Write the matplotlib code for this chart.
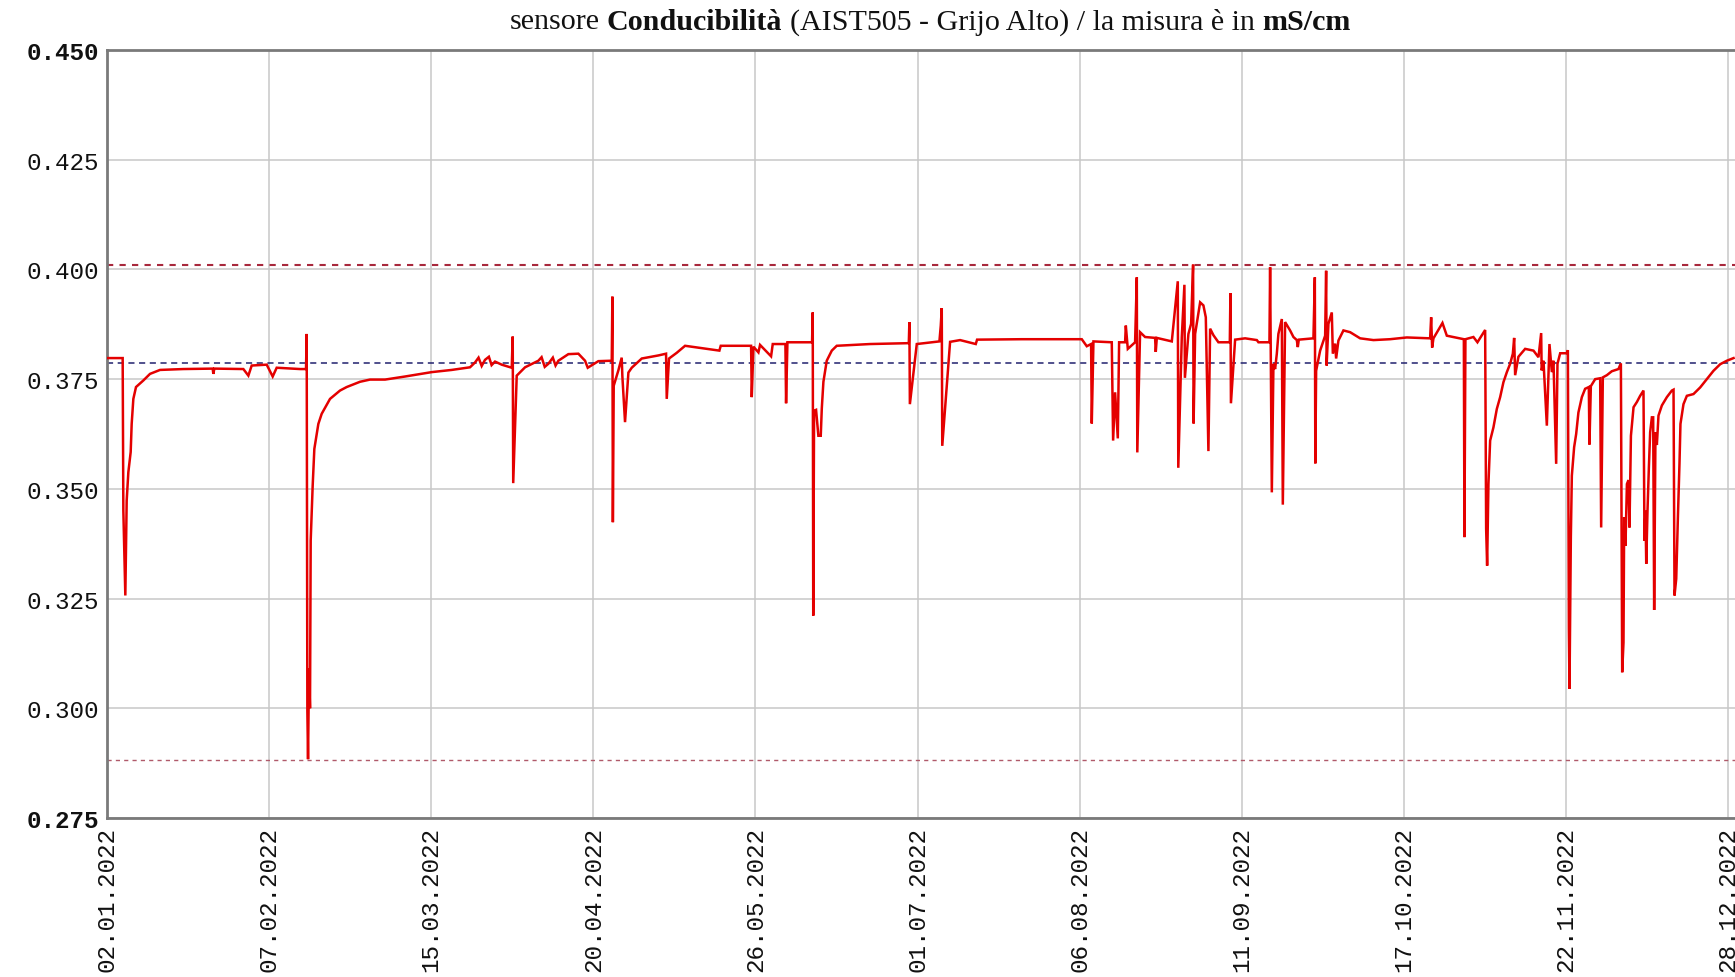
import numpy as np
import pandas as pd
import matplotlib
matplotlib.use("Agg")
import matplotlib.pyplot as plt
import matplotlib.dates as mdates

# conductivity readings, AIST505 Grijo Alto, 2022
# day offsets are counted from 02.01.2022 00:00
start_date = np.datetime64("2022-01-02T00:00")

# Jan - Feb
days_a = [0.0, 3.48, 3.63, 4.07, 4.37, 4.74, 5.26, 5.48, 5.85, 6.44,
          8.07, 9.55, 11.77, 16.95, 23.47, 23.61, 23.84, 30.28, 31.39, 32.13,
          35.46, 36.79, 37.68, 42.86, 44.19, 44.34, 44.49, 44.64, 44.86, 45.08,
          45.23, 45.67, 46.04, 46.93, 47.67, 49.52, 51.74, 53.22, 56.18, 58.40]
vals_a = [0.3798, 0.3798, 0.3450, 0.3257, 0.3473, 0.3538, 0.3584, 0.3648, 0.3705, 0.3732,
          0.3747, 0.3762, 0.3771, 0.3773, 0.3774, 0.3762, 0.3774, 0.3773, 0.3758, 0.3781,
          0.3783, 0.3756, 0.3776, 0.3773, 0.3773, 0.3853, 0.2994, 0.2884, 0.3090, 0.3000,
          0.3382, 0.3507, 0.3591, 0.3648, 0.3671, 0.3705, 0.3724, 0.3732, 0.3744, 0.3749]

# Mar - May
days_b = [61.74, 66.18, 72.10, 76.55, 80.61, 81.72, 82.50, 83.20, 83.94, 84.80,
          85.40, 86.16, 87.65, 89.87, 90.09, 90.20, 90.98, 92.83, 95.79, 96.50,
          97.20, 98.01, 99.00, 99.60, 100.23, 102.45, 104.67, 106.15, 106.75, 109.11,
          112.08, 112.22, 112.33, 112.52, 113.55, 114.29, 114.44, 115.03, 115.78, 116.52,
          118.74, 122.43, 124.14, 124.29, 124.80, 126.51, 128.36]
vals_b = [0.3749, 0.3756, 0.3766, 0.3771, 0.3777, 0.3788, 0.3799, 0.3780, 0.3794, 0.3801,
          0.3782, 0.3790, 0.3783, 0.3776, 0.3847, 0.3513, 0.3758, 0.3777, 0.3792, 0.3800,
          0.3778, 0.3785, 0.3799, 0.3781, 0.3792, 0.3807, 0.3808, 0.3792, 0.3776, 0.3791,
          0.3792, 0.3938, 0.3424, 0.3735, 0.3770, 0.3799, 0.3756, 0.3652, 0.3765, 0.3776,
          0.3797, 0.3804, 0.3808, 0.3705, 0.3797, 0.3810, 0.3826]

# May - Jul
days_c = [135.98, 136.28, 143.02, 143.17, 143.54, 144.65, 145.01, 147.46, 147.83, 150.64,
          150.79, 151.09, 156.56, 156.71, 156.82, 157.01, 157.45, 157.96, 158.49, 158.72,
          159.08, 159.82, 160.94, 162.04, 169.44, 178.04, 178.17, 178.28, 179.81, 184.84,
          185.14, 185.36, 185.47, 187.21, 189.43]
vals_c = [0.3815, 0.3826, 0.3826, 0.3709, 0.3824, 0.3811, 0.3828, 0.3802, 0.3830, 0.3830,
          0.3695, 0.3834, 0.3834, 0.3902, 0.3211, 0.3678, 0.3680, 0.3621, 0.3621, 0.3683,
          0.3744, 0.3792, 0.3815, 0.3826, 0.3830, 0.3832, 0.3880, 0.3693, 0.3830, 0.3836,
          0.3872, 0.3912, 0.3598, 0.3835, 0.3839]

# Jul - Sep
days_d = [192.91, 193.20, 203.13, 216.45, 217.56, 218.52, 218.67, 219.04, 223.11, 223.41,
          223.85, 224.45, 224.74, 226.07, 226.23, 226.67, 228.29, 228.67, 228.78, 229.40,
          230.51, 232.73, 232.88, 233.11, 236.44, 237.77, 237.88, 238.66, 239.24, 239.35,
          240.13, 240.73, 241.17, 241.28, 241.62, 242.73, 243.46, 243.99, 244.57, 244.95,
          245.69, 246.79, 249.32, 249.46, 249.57, 250.50, 252.72]
vals_d = [0.3830, 0.3840, 0.3841, 0.3841, 0.3825, 0.3830, 0.3649, 0.3836, 0.3834, 0.3610,
          0.3720, 0.3615, 0.3834, 0.3834, 0.3872, 0.3819, 0.3834, 0.3982, 0.3583, 0.3857,
          0.3846, 0.3844, 0.3812, 0.3844, 0.3836, 0.3973, 0.3548, 0.3846, 0.3965, 0.3753,
          0.3853, 0.3876, 0.4011, 0.3649, 0.3853, 0.3925, 0.3918, 0.3891, 0.3586, 0.3865,
          0.3850, 0.3834, 0.3834, 0.3946, 0.3695, 0.3840, 0.3843]

# Sep - Nov
days_e = [255.32, 255.68, 258.12, 258.27, 258.65, 259.01, 259.38, 259.76, 260.11, 260.87,
          261.09, 261.60, 262.71, 263.45, 264.20, 264.42, 264.64, 267.89, 268.20, 268.31,
          268.49, 269.38, 270.49, 270.71, 270.82, 271.22, 271.97, 272.20, 272.71, 272.93,
          273.44, 274.55, 276.04, 278.26, 281.22, 284.92, 288.63, 293.80, 294.03, 294.25,
          294.54, 296.54, 297.51, 301.29, 301.42, 301.64, 303.42, 304.31, 306.02, 306.24,
          306.46, 306.75, 307.13, 307.86, 308.61, 309.35, 310.08, 310.84, 311.57, 312.17,
          312.46, 312.68, 313.41, 314.90]
vals_e = [0.3839, 0.3834, 0.3834, 0.4005, 0.3492, 0.3785, 0.3773, 0.3808, 0.3853, 0.3887,
          0.3464, 0.3880, 0.3861, 0.3846, 0.3839, 0.3823, 0.3840, 0.3843, 0.3982, 0.3558,
          0.3769, 0.3815, 0.3849, 0.3997, 0.3781, 0.3876, 0.3902, 0.3808, 0.3831, 0.3797,
          0.3838, 0.3861, 0.3857, 0.3843, 0.3839, 0.3841, 0.3845, 0.3843, 0.3891, 0.3822,
          0.3843, 0.3878, 0.3849, 0.3841, 0.3390, 0.3841, 0.3846, 0.3834, 0.3862, 0.3409,
          0.3325, 0.3511, 0.3610, 0.3640, 0.3682, 0.3709, 0.3743, 0.3766, 0.3785, 0.3808,
          0.3844, 0.3759, 0.3801, 0.3819]

# Nov - Dec
days_f = [316.75, 317.86, 318.46, 318.57, 318.97, 319.72, 320.30, 320.83, 321.19, 321.79,
          322.08, 322.68, 324.17, 324.39, 324.61, 324.75, 325.05, 325.27, 325.78, 326.23,
          326.73, 327.49, 328.22, 329.04, 329.18, 329.49, 330.45, 331.56, 331.78, 332.15,
          333.04, 334.15, 335.62, 336.16, 336.45, 336.74, 336.89, 337.18, 337.50, 337.85,
          338.07, 338.39, 338.97, 339.72, 340.44, 341.18, 341.40, 341.62, 341.79, 342.07,
          342.38, 342.66, 343.04, 343.33, 343.55, 343.84, 344.15, 344.51, 345.26, 346.37,
          347.48, 347.85, 348.07, 348.45, 348.82, 349.17, 349.39, 350.06, 350.81, 352.28,
          353.76, 355.25, 356.72, 358.21, 359.70, 361.18]
vals_f = [0.3815, 0.3800, 0.3855, 0.3770, 0.3792, 0.3644, 0.3830, 0.3766, 0.3792, 0.3557,
          0.3785, 0.3809, 0.3809, 0.3816, 0.3181, 0.3044, 0.3390, 0.3530, 0.3595, 0.3625,
          0.3674, 0.3709, 0.3728, 0.3732, 0.3601, 0.3734, 0.3750, 0.3752, 0.3412, 0.3754,
          0.3759, 0.3768, 0.3773, 0.3786, 0.3082, 0.3150, 0.3435, 0.3370, 0.3511, 0.3520,
          0.3412, 0.3621, 0.3686, 0.3698, 0.3712, 0.3724, 0.3382, 0.3450, 0.3329, 0.3450,
          0.3550, 0.3629, 0.3663, 0.3663, 0.3224, 0.3629, 0.3600, 0.3667, 0.3690, 0.3709,
          0.3724, 0.3726, 0.3257, 0.3295, 0.3435, 0.3557, 0.3648, 0.3693, 0.3712, 0.3716,
          0.3731, 0.3750, 0.3769, 0.3784, 0.3792, 0.3798]

# reference lines
soglia_max = 0.4011
soglia_min = 0.2883
media = 0.3787

y_ticks = [0.275, 0.300, 0.325, 0.350, 0.375, 0.400, 0.425, 0.450]
x_tick_dates = pd.date_range("2022-01-02", periods=11, freq="36D")

title_parts = [("sensore", "normal"), ("Conducibilità", "bold"),
               ("(AIST505 - Grijo Alto) / la misura è in", "normal"), ("mS/cm", "bold")]


def to_dates(d):
    mins = np.round(np.asarray(d) * 24 * 60).astype("int64")
    return start_date + mins.astype("timedelta64[m]")


days = days_a + days_b + days_c + days_d + days_e + days_f
vals = vals_a + vals_b + vals_c + vals_d + vals_e + vals_f
assert len(days) == len(vals)

W, H = 1735, 978
fig = plt.figure(figsize=(W / 100, H / 100), dpi=100)
ax = fig.add_axes([107 / W, 1 - 819 / H, (W - 107) / W, (819 - 51) / H])

ax.set_xlim(to_dates([0.0])[0], to_dates([361.5])[0])
ax.set_ylim(0.275, 0.450)

ax.grid(True, color="#c8c8c8", linewidth=1.1)
ax.set_axisbelow(True)

ax.axhline(soglia_max, color="#a8283c", linestyle=(0, (3, 3)), linewidth=1.5, zorder=2)
ax.axhline(soglia_min, color="#b05a6a", linestyle=(0, (3, 3)), linewidth=1.0, zorder=2)
ax.axhline(media, color="#20206e", linestyle=(0, (4, 3)), linewidth=1.1, zorder=2)

ax.plot(to_dates(days), vals, color="#e40000", linewidth=1.8, zorder=3,
        solid_joinstyle="miter")

for side in ["left", "top", "bottom"]:
    ax.spines[side].set_color("#7a7a7a")
    ax.spines[side].set_linewidth(2.0)
ax.spines["right"].set_visible(False)

mono = "Liberation Mono"
ax.set_yticks(y_ticks)
ax.set_yticklabels(["%.3f" % t for t in y_ticks], family=mono, fontsize=17.5)
for lab, t in zip(ax.get_yticklabels(), y_ticks):
    if t in (0.275, 0.450):
        lab.set_fontweight("bold")

ax.set_xticks(x_tick_dates)
ax.xaxis.set_major_formatter(mdates.DateFormatter("%d.%m.%Y"))
for lab in ax.get_xticklabels():
    lab.set_family(mono)
    lab.set_fontsize(17.5)
    lab.set_rotation(90)
ax.tick_params(axis="both", length=0, pad=6, colors="#111111")

# title with bold pieces
r = fig.canvas.get_renderer()
fsize = 21.6
tx = [fig.text(0, 1 - 22 / H, s, fontsize=fsize, fontweight=w, family="Liberation Serif",
               va="center", ha="left", color="#111111") for s, w in title_parts]
probe1 = fig.text(0, 0, "a a", fontsize=fsize, family="Liberation Serif")
probe2 = fig.text(0, 0, "aa", fontsize=fsize, family="Liberation Serif")
space = probe1.get_window_extent(r).width - probe2.get_window_extent(r).width
probe1.remove()
probe2.remove()
widths = [t.get_window_extent(r).width for t in tx]
total = sum(widths) + space * (len(tx) - 1)
x = 930 - total / 2
for t, w in zip(tx, widths):
    t.set_x(x / W)
    x += w + space

fig.savefig("out.png", dpi=100)
